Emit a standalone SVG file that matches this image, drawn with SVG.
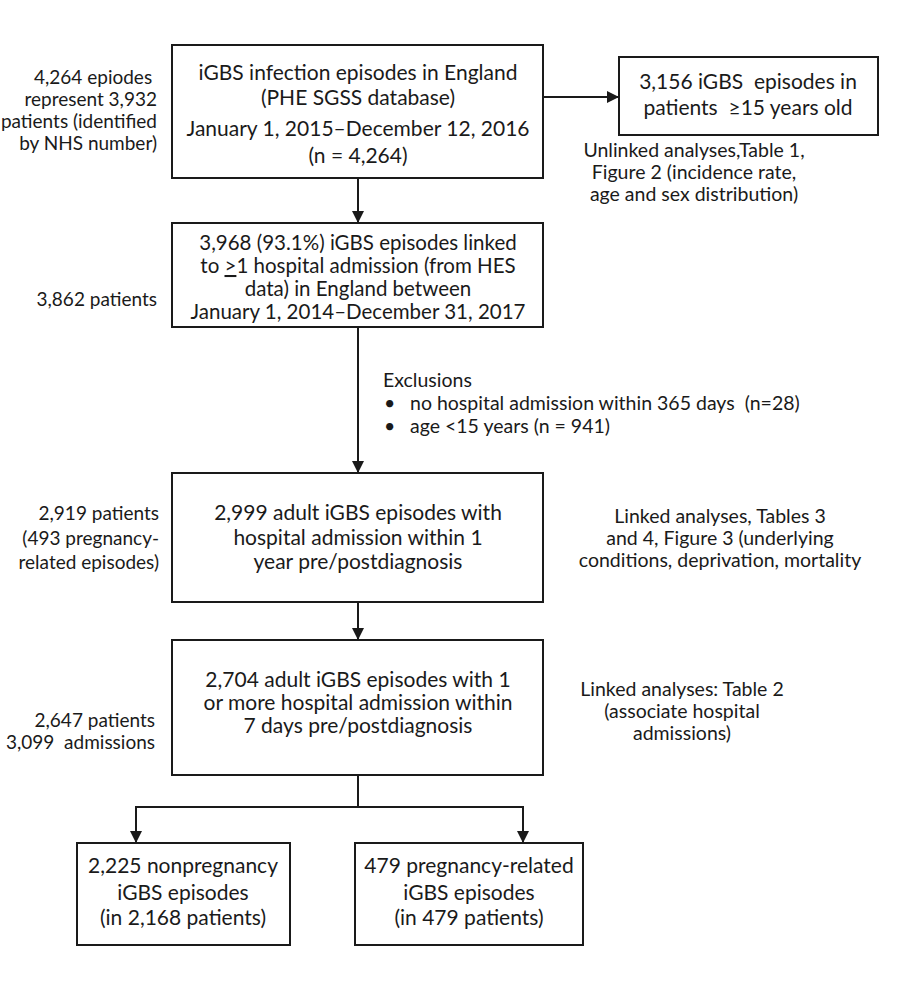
<svg xmlns="http://www.w3.org/2000/svg" width="900" height="992" viewBox="0 0 900 992">
<defs>
<marker id="ah" markerWidth="12" markerHeight="12" viewBox="0 0 12 12" refX="12" refY="6" orient="auto" markerUnits="userSpaceOnUse">
<path d="M0,0 L12,6 L0,12 Z" fill="#1a1a1a"/>
</marker>
<style>
.box{fill:#fff;stroke:#1a1a1a;stroke-width:2}
.ln{fill:none;stroke:#1a1a1a;stroke-width:2}
.t{font-family:Lato,"Liberation Sans",sans-serif;font-size:21px;fill:#1a1a1a;text-anchor:middle}
.t2{font-size:20.5px}
.s{font-family:Lato,"Liberation Sans",sans-serif;font-size:19px;fill:#1a1a1a}
.e{font-family:Lato,"Liberation Sans",sans-serif;font-size:19.5px;fill:#1a1a1a}
.r{text-anchor:end}
.c{text-anchor:middle}
</style>
</defs>
<rect width="900" height="992" fill="#fff"/>
<g id="connectors">
<line class="ln" x1="358" y1="178" x2="358" y2="223" marker-end="url(#ah)"/>
<line class="ln" x1="543" y1="97" x2="619" y2="97" marker-end="url(#ah)"/>
<line class="ln" x1="358" y1="327" x2="358" y2="473" marker-end="url(#ah)"/>
<line class="ln" x1="358" y1="602" x2="358" y2="640" marker-end="url(#ah)"/>
<line class="ln" x1="358" y1="775" x2="358" y2="807"/>
<path class="ln" d="M358,807 H136 V843" marker-end="url(#ah)"/>
<path class="ln" d="M358,807 H523 V843" marker-end="url(#ah)"/>
</g>
<g id="n1">
<rect class="box" x="172" y="45" width="371" height="133"/>
<text class="t" x="358" y="80">iGBS infection episodes in England</text>
<text class="t" x="358" y="105">(PHE SGSS database)</text>
<text class="t" x="358" y="136">January 1, 2015–December 12, 2016</text>
<text class="t" x="358" y="163">(n = 4,264)</text>
</g>
<g id="n1-note">
<text class="s r" x="157" y="84" xml:space="preserve">4,264 epiodes </text>
<text class="s r" x="157" y="106">represent 3,932</text>
<text class="s r" x="157" y="128">patients (identified</text>
<text class="s r" x="157" y="150">by NHS number)</text>
</g>
<g id="n2">
<rect class="box" x="619" y="57" width="259" height="78"/>
<text class="t" x="748" y="89" xml:space="preserve">3,156 iGBS  episodes in</text>
<text class="t" x="748" y="115" xml:space="preserve">patients  ≥15 years old</text>
</g>
<g id="n2-note">
<text class="e c" x="694" y="157">Unlinked analyses,Table 1,</text>
<text class="e c" x="694" y="179">Figure 2 (incidence rate,</text>
<text class="e c" x="694" y="201">age and sex distribution)</text>
</g>
<g id="n3">
<rect class="box" x="172" y="223" width="371" height="104"/>
<text class="t t2" x="358" y="250">3,968 (93.1%) iGBS episodes linked</text>
<text class="t t2" x="358" y="273">to <tspan text-decoration="underline">&gt;</tspan>1 hospital admission (from HES</text>
<text class="t t2" x="358" y="296">data) in England between</text>
<text class="t t2" x="358" y="319">January 1, 2014–December 31, 2017</text>
</g>
<g id="n3-note">
<text class="s r" x="157" y="306">3,862 patients</text>
</g>
<g id="exclusions">
<text class="e" x="383" y="387">Exclusions</text>
<text class="e" x="384" y="410">•</text>
<text class="e" x="410" y="410" xml:space="preserve">no hospital admission within 365 days  (n=28)</text>
<text class="e" x="384" y="433">•</text>
<text class="e" x="410" y="433">age &lt;15 years (n = 941)</text>
</g>
<g id="n4">
<rect class="box" x="172" y="473" width="371" height="129"/>
<text class="t" x="358" y="520">2,999 adult iGBS episodes with</text>
<text class="t" x="358" y="545">hospital admission within 1</text>
<text class="t" x="358" y="569">year pre/postdiagnosis</text>
</g>
<g id="n4-note">
<text class="s r" x="159" y="520">2,919 patients</text>
<text class="s r" x="159" y="545">(493 pregnancy-</text>
<text class="s r" x="159" y="569">related episodes)</text>
<text class="e c" x="720" y="523">Linked analyses, Tables 3</text>
<text class="e c" x="720" y="545">and 4, Figure 3 (underlying</text>
<text class="e c" x="720" y="567">conditions, deprivation, mortality</text>
</g>
<g id="n5">
<rect class="box" x="172" y="640" width="371" height="135"/>
<text class="t" x="358" y="687">2,704 adult iGBS episodes with 1</text>
<text class="t" x="358" y="710">or more hospital admission within</text>
<text class="t" x="358" y="733">7 days pre/postdiagnosis</text>
</g>
<g id="n5-note">
<text class="s r" x="155" y="727">2,647 patients</text>
<text class="s r" x="155" y="749" xml:space="preserve">3,099  admissions</text>
<text class="e c" x="682" y="696">Linked analyses: Table 2</text>
<text class="e c" x="682" y="718">(associate hospital</text>
<text class="e c" x="682" y="740">admissions)</text>
</g>
<g id="n6">
<rect class="box" x="77" y="843" width="213" height="102"/>
<text class="t" x="183" y="873">2,225 nonpregnancy</text>
<text class="t" x="183" y="900">iGBS episodes</text>
<text class="t" x="183" y="925">(in 2,168 patients)</text>
</g>
<g id="n7">
<rect class="box" x="355" y="843" width="228" height="102"/>
<text class="t" x="469" y="873">479 pregnancy-related</text>
<text class="t" x="469" y="900">iGBS episodes</text>
<text class="t" x="469" y="925">(in 479 patients)</text>
</g>
</svg>
